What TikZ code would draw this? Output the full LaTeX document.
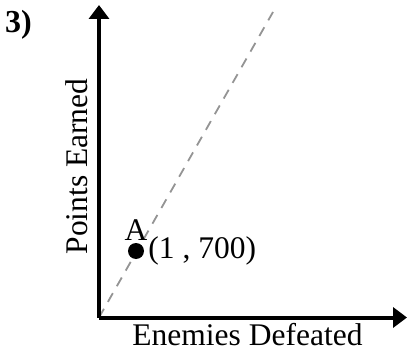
\documentclass[tikz,border=0pt]{standalone}
\usepackage{fontspec}
\setmainfont{Liberation Serif}
\usetikzlibrary{positioning,arrows.meta}
\tikzset{
  axis/.style={-{Triangle[length=14pt, width=20pt]}, line width=4pt},
  guide/.style={dashed, dash pattern=on 10pt off 8pt, line width=1.8pt, color=black!42},
  dot/.style={circle, fill=black, inner sep=0pt, minimum size=16pt},
  lbl/.style={inner sep=0pt, font=\fontsize{31.5}{36}\selectfont}
}
\begin{document}
\begin{tikzpicture}[x=1pt, y=1pt]
  \useasboundingbox (0,0) rectangle (407,354);
  % Axes
  \coordinate (origin) at (99,36.5);
  \coordinate (ytip) at (99,349);
  \coordinate (xtip) at (407,36.5);
  \coordinate (dashend) at (273,342);
  \draw[guide] (origin) -- (dashend);
  \draw[axis] (origin) -- (ytip);
  \draw[axis] (origin) -- (xtip);

  % Point A
  \node[dot] (ptA) at (136,103) {};
  \node[lbl, above=2pt of ptA] (nameA) {A};
  \node[lbl, right=4pt of ptA] (valA) {(1 , 700)};

  % Labels
  \node[lbl, anchor=base, rotate=90] (ylbl) at (87,187.5) {Points Earned};
  \node[lbl, anchor=base] (xlbl) at (247.5,9) {Enemies Defeated};
  \node[lbl, anchor=base, font=\fontsize{32}{36}\selectfont\bfseries] (num) at (18.5,321) {3)};
\end{tikzpicture}
\end{document}
